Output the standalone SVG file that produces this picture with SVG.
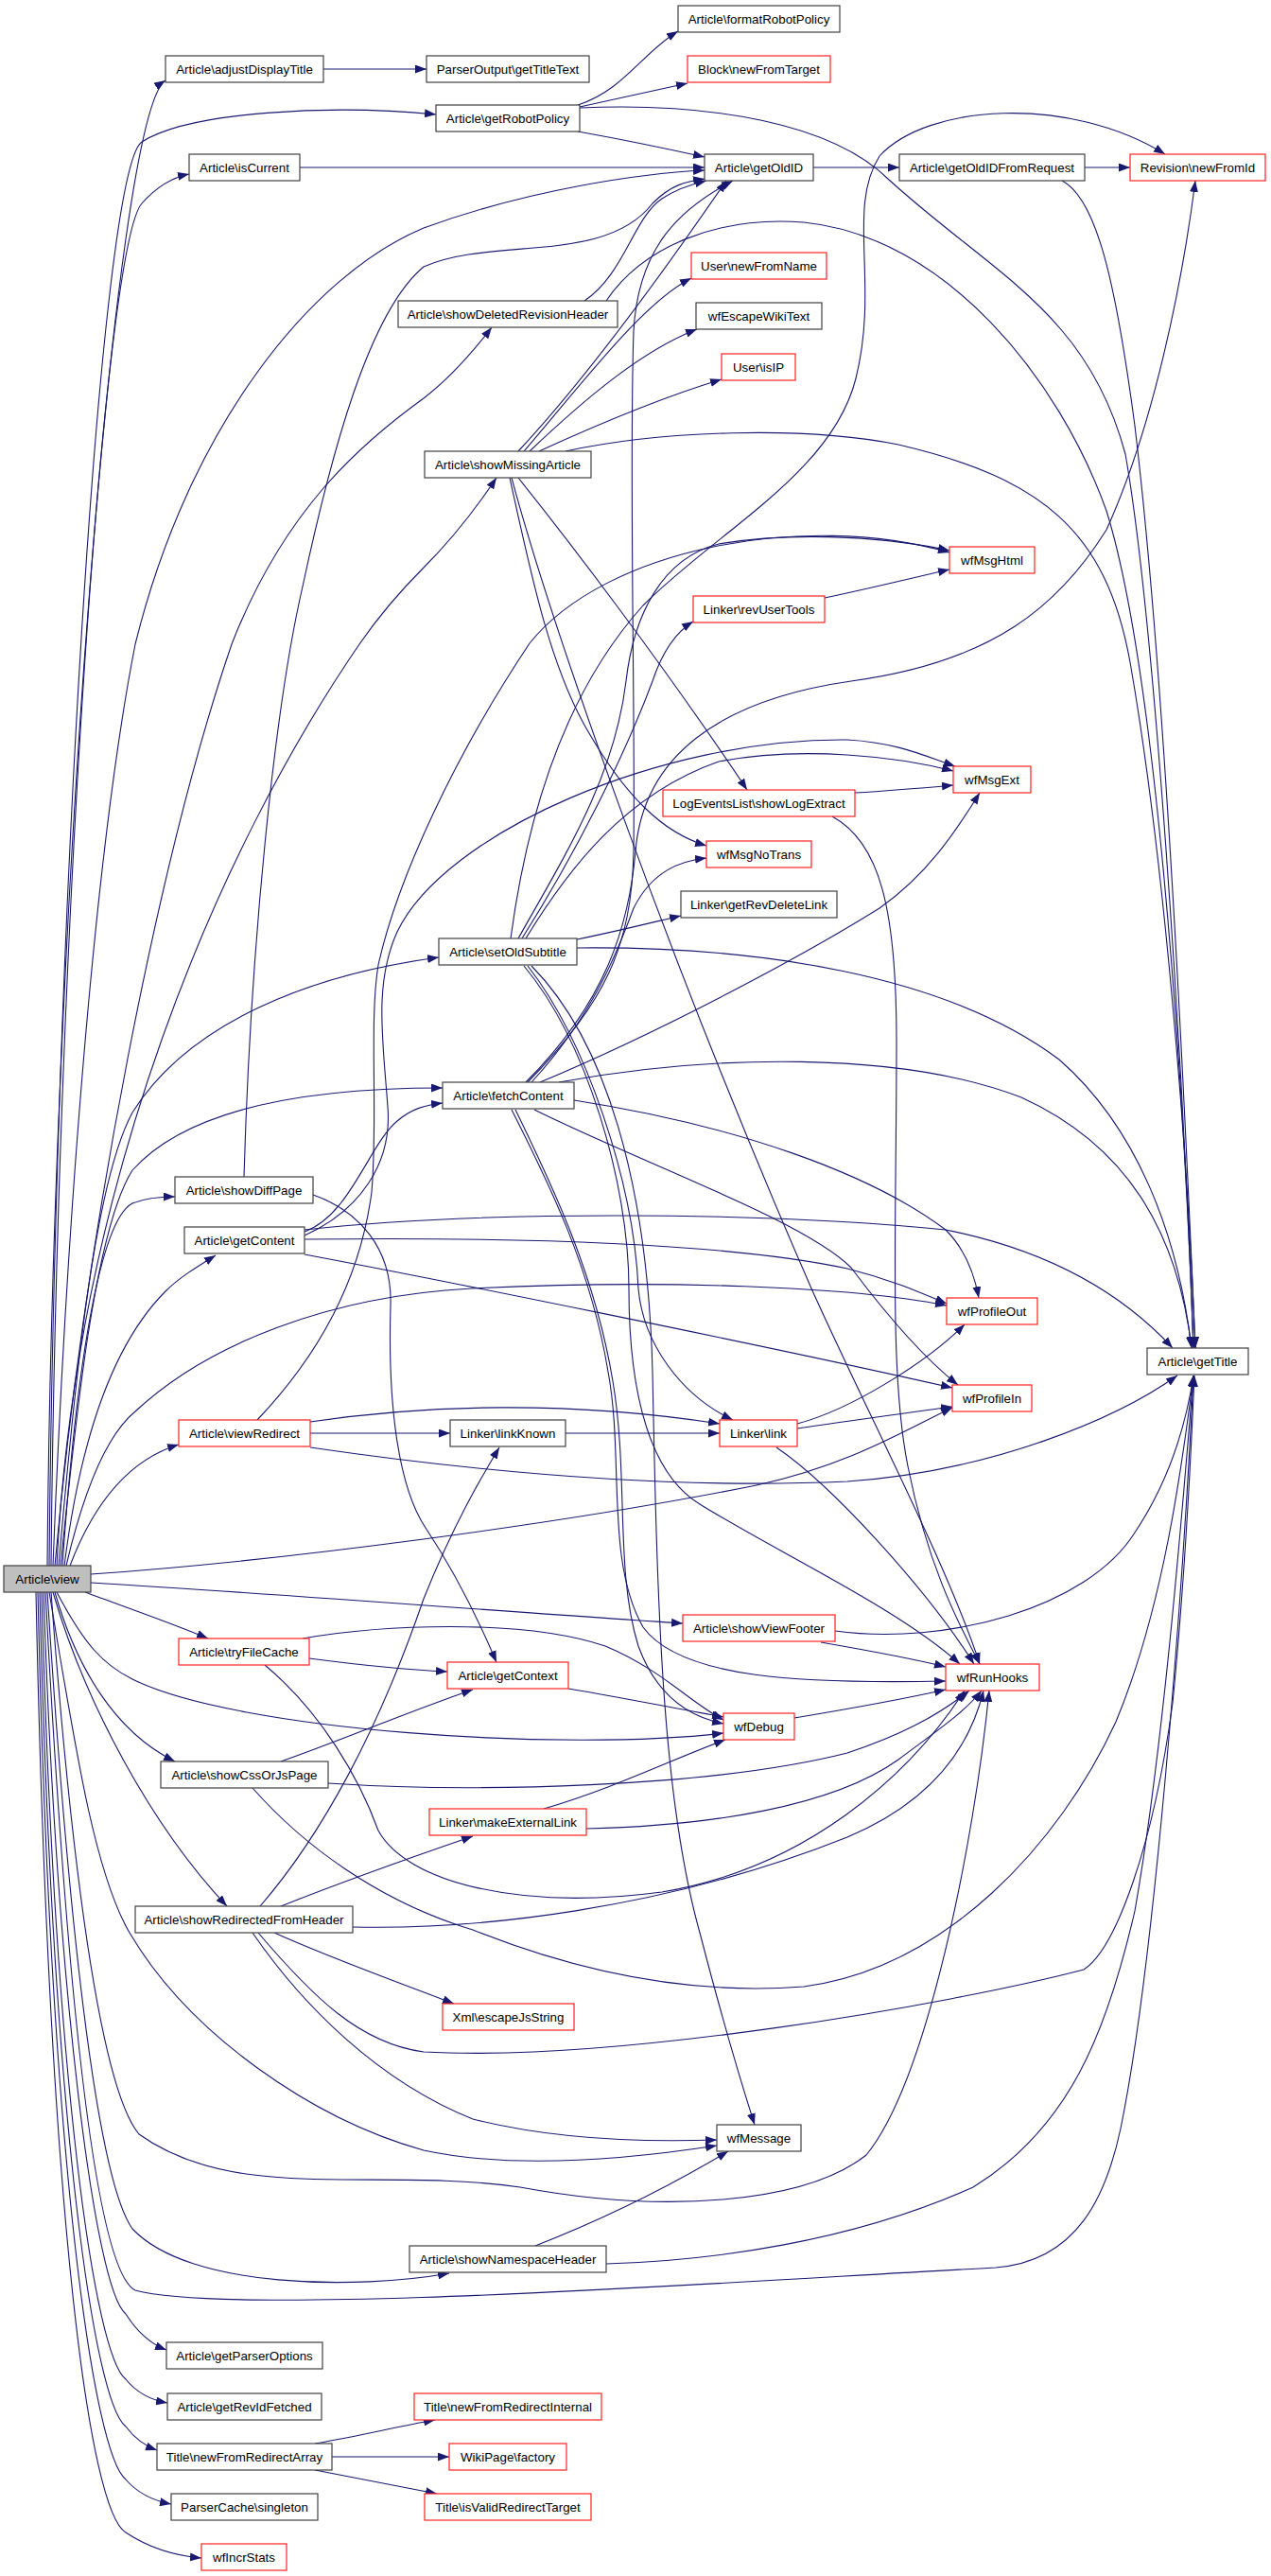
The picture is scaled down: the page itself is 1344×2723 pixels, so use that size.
<svg xmlns="http://www.w3.org/2000/svg" width="1344" height="2723" viewBox="0 0 1344 2723">
<defs>
<marker id="a" markerWidth="12" markerHeight="9" refX="12" refY="4.5" orient="auto" markerUnits="userSpaceOnUse"><path d="M0,0 L12,4.5 L0,9 z" fill="#191970"/></marker>
<style>
.n rect{fill:#fff;stroke:#404040;stroke-width:1.2}
.r rect{stroke:#ff2020}
.g rect{fill:#bfbfbf}
text{font-family:"Liberation Sans",Arial,Helvetica,sans-serif;font-size:13.33px;text-anchor:middle;fill:#000}
#edges path{fill:none;stroke:#191970;stroke-width:1.1;marker-end:url(#a)}
</style>
</defs>
<rect width="1344" height="2723" fill="#fff"/>
<g id="edges">
<path d="M 50,1655 C 55,1000 120,120 175,85"/>
<path d="M 52,1655 C 58,1000 105,180 150,150 C 200,118 350,110 461,121"/>
<path d="M 54,1655 C 60,1000 110,260 150,215 C 165,198 180,188 200,184"/>
<path d="M 56,1655 C 70,1300 100,900 143,681 C 200,450 330,290 448,241 C 560,200 680,183 745,180"/>
<path d="M 58,1655 C 90,1300 170,900 245,681 C 300,540 380,470 448,421 C 478,398 500,372 520,346"/>
<path d="M 60,1655 C 80,1250 230,900 380,681 C 400,652 420,628 448,600 C 480,568 505,535 525,505"/>
<path d="M 62,1655 C 80,1450 100,1250 140,1176 C 200,1080 330,1030 464,1012"/>
<path d="M 64,1655 C 80,1500 100,1300 140,1237 C 200,1170 330,1150 468,1150"/>
<path d="M 66,1655 C 80,1450 105,1290 140,1272 C 155,1266 170,1265 185,1265"/>
<path d="M 68,1655 C 85,1520 120,1420 175,1365 C 190,1350 210,1338 228,1327"/>
<path d="M 70,1655 C 90,1570 115,1515 143,1492 C 220,1420 350,1370 498,1362 C 700,1352 900,1360 1001,1380"/>
<path d="M 74,1655 C 95,1600 130,1545 189,1527"/>
<path d="M 96,1664 C 300,1650 600,1610 800,1570 C 900,1548 960,1510 1007,1488"/>
<path d="M 96,1673 C 300,1685 550,1705 722,1716"/>
<path d="M 90,1683 C 130,1698 180,1715 220,1732"/>
<path d="M 60,1683 C 90,1740 110,1760 140,1775 C 250,1830 600,1852 765,1832"/>
<path d="M 58,1683 C 80,1760 120,1830 185,1862"/>
<path d="M 56,1683 C 90,1800 160,1930 240,2015"/>
<path d="M 54,1683 C 70,1900 100,2200 147,2256 C 250,2330 400,2290 550,2312 C 700,2340 850,2330 916,2278 C 980,2200 1030,1950 1046,1787"/>
<path d="M 52,1683 C 80,1850 100,1980 137,2043 C 200,2150 330,2240 448,2273 C 550,2295 680,2280 758,2268"/>
<path d="M 50,1683 C 70,2000 100,2300 140,2356 C 200,2420 380,2420 475,2403"/>
<path d="M 48,1683 C 70,2100 100,2400 143,2421 C 250,2450 800,2410 1053,2397 C 1140,2390 1170,2320 1185,2250 C 1220,2080 1250,1700 1262,1454"/>
<path d="M 46,1683 C 60,2100 100,2420 133,2446 C 145,2465 160,2478 176,2484"/>
<path d="M 44,1683 C 58,2200 100,2490 133,2515 C 145,2530 160,2537 177,2540"/>
<path d="M 42,1683 C 56,2250 100,2540 133,2565 C 142,2577 152,2585 166,2590"/>
<path d="M 40,1683 C 54,2300 100,2595 133,2621 C 145,2635 160,2643 181,2647"/>
<path d="M 38,1683 C 52,2350 95,2655 133,2677 C 160,2695 190,2702 213,2704"/>
<path d="M 342,73 L 451,73"/>
<path d="M 611,111 C 660,95 680,55 717,33"/>
<path d="M 613,113 C 650,105 690,96 727,88"/>
<path d="M 611,139 C 650,146 700,156 745,166"/>
<path d="M 613,114 C 750,108 880,130 940,190 C 1050,290 1150,330 1190,480 C 1220,650 1250,1100 1262,1425"/>
<path d="M 317,177 L 745,177"/>
<path d="M 860,177 L 951,177"/>
<path d="M 1147,177 L 1195,177"/>
<path d="M 1123,191 C 1160,210 1180,300 1200,450 C 1230,700 1250,1100 1264,1425"/>
<path d="M 618,318 C 660,290 670,230 700,210 C 715,200 730,195 747,191"/>
<path d="M 641,318 C 680,260 760,228 850,235 C 1000,250 1120,400 1170,540 C 1220,700 1250,1100 1262,1425"/>
<path d="M 548,477 C 620,400 700,290 768,191"/>
<path d="M 554,477 C 620,400 680,320 731,294"/>
<path d="M 560,477 C 620,420 680,370 737,348"/>
<path d="M 570,477 C 640,445 700,420 763,401"/>
<path d="M 598,477 C 700,455 850,450 950,470 C 1100,505 1170,560 1195,700 C 1230,900 1255,1200 1264,1425"/>
<path d="M 539,505 C 560,600 580,700 620,770 C 660,840 700,880 747,894"/>
<path d="M 548,505 C 600,570 700,700 790,835"/>
<path d="M 541,505 C 580,650 700,1000 858,1362 C 920,1500 1000,1650 1036,1759"/>
<path d="M 872,632 C 920,622 960,612 1004,602"/>
<path d="M 904,838 C 940,836 975,833 1008,830"/>
<path d="M 880,863 C 930,890 948,960 948,1100 C 948,1300 940,1450 960,1550 C 980,1650 1010,1710 1036,1759"/>
<path d="M 540,992 C 555,880 590,740 680,640 C 760,560 880,500 905,400 C 930,300 895,220 930,165 C 980,110 1130,100 1232,163"/>
<path d="M 548,992 C 600,900 650,820 662,720 C 670,650 700,590 760,575 C 850,560 950,570 1004,582"/>
<path d="M 552,992 C 610,900 660,800 690,720 C 700,690 715,668 733,657"/>
<path d="M 556,992 C 600,920 660,840 760,805 C 850,788 950,800 1008,815"/>
<path d="M 610,993 C 650,985 690,975 720,968"/>
<path d="M 610,1002 C 800,1000 1000,1030 1120,1120 C 1200,1190 1245,1300 1260,1425"/>
<path d="M 558,1021 C 620,1100 670,1250 675,1362 C 680,1420 720,1475 775,1501"/>
<path d="M 554,1021 C 620,1100 665,1250 665,1362 C 665,1480 690,1560 740,1590 C 820,1640 950,1700 1015,1759"/>
<path d="M 562,1021 C 640,1100 685,1250 690,1450 C 695,1700 700,1900 740,2043 C 760,2120 780,2190 798,2246"/>
<path d="M 558,1144 C 640,1060 668,1000 670,900 C 672,750 665,500 670,350 C 675,260 720,220 775,191"/>
<path d="M 562,1144 C 630,1070 655,1000 670,960 C 690,920 720,910 747,907"/>
<path d="M 556,1144 C 640,1060 665,980 672,900 C 680,800 760,740 900,720 C 1050,700 1120,640 1170,560 C 1220,450 1250,300 1264,191"/>
<path d="M 571,1144 C 700,1090 850,1010 930,960 C 980,925 1010,880 1036,838"/>
<path d="M 591,1144 C 750,1115 950,1110 1080,1160 C 1190,1210 1245,1300 1260,1425"/>
<path d="M 607,1163 C 780,1190 920,1240 1000,1300 C 1020,1320 1030,1345 1035,1372"/>
<path d="M 565,1173 C 680,1230 850,1290 900,1340 C 930,1380 970,1430 1013,1464"/>
<path d="M 545,1173 C 585,1255 630,1350 648,1460 C 665,1560 650,1660 675,1740 C 695,1795 730,1815 765,1822"/>
<path d="M 541,1173 C 580,1250 625,1340 643,1450 C 660,1540 640,1650 680,1720 C 720,1775 850,1780 1000,1777"/>
<path d="M 322,1302 C 370,1285 390,1210 420,1185 C 435,1172 450,1168 468,1166"/>
<path d="M 322,1306 C 380,1280 415,1230 410,1170 C 405,1100 395,1040 420,985 C 470,880 700,780 896,782 C 950,785 980,800 1010,810"/>
<path d="M 322,1300 C 500,1280 800,1280 1000,1300 C 1100,1320 1180,1360 1240,1425"/>
<path d="M 322,1310 C 500,1308 750,1310 896,1341 C 940,1352 970,1365 1001,1378"/>
<path d="M 322,1326 C 450,1350 800,1420 1007,1467"/>
<path d="M 258,1244 C 265,1000 290,750 320,620 C 350,480 390,330 448,282 C 520,250 640,280 690,215 C 710,195 725,192 745,189"/>
<path d="M 331,1263 C 380,1280 415,1320 413,1380 C 410,1480 420,1570 450,1615 C 480,1660 505,1710 525,1757"/>
<path d="M 272,1501 C 330,1440 380,1360 393,1260 C 400,1180 390,1080 400,1020 C 420,930 480,800 560,680 C 640,580 850,540 1004,584"/>
<path d="M 328,1515 L 476,1515"/>
<path d="M 328,1503 C 450,1485 600,1480 761,1505"/>
<path d="M 328,1530 C 500,1555 700,1575 896,1566 C 1050,1555 1180,1500 1245,1454"/>
<path d="M 598,1515 L 761,1515"/>
<path d="M 843,1505 C 900,1490 980,1440 1020,1400"/>
<path d="M 843,1510 C 900,1502 960,1493 1007,1487"/>
<path d="M 821,1530 C 880,1570 980,1680 1030,1759"/>
<path d="M 868,1736 C 920,1745 960,1752 1000,1762"/>
<path d="M 883,1724 C 1000,1740 1150,1700 1200,1620 C 1240,1560 1255,1500 1262,1454"/>
<path d="M 327,1753 C 380,1760 430,1765 473,1767"/>
<path d="M 320,1732 C 400,1718 550,1710 640,1740 C 700,1765 730,1800 765,1818"/>
<path d="M 280,1760 C 340,1810 380,1880 400,1935 C 430,1990 550,2020 700,2000 C 850,1975 960,1880 1020,1787"/>
<path d="M 601,1785 C 660,1795 710,1805 765,1815"/>
<path d="M 840,1816 C 900,1806 960,1795 1000,1786"/>
<path d="M 297,1862 C 360,1840 430,1810 500,1786"/>
<path d="M 347,1885 C 500,1895 750,1890 896,1853 C 950,1835 990,1815 1025,1787"/>
<path d="M 267,1890 C 320,1950 400,2010 500,2040 C 600,2080 720,2110 850,2100 C 1000,2080 1120,1950 1180,1820 C 1230,1700 1250,1550 1262,1454"/>
<path d="M 575,1912 C 650,1890 710,1860 767,1839"/>
<path d="M 620,1933 C 750,1930 880,1910 950,1860 C 990,1830 1020,1810 1038,1787"/>
<path d="M 275,2015 C 340,1940 400,1830 448,1690 C 480,1610 510,1560 528,1530"/>
<path d="M 297,2015 C 360,1990 430,1965 500,1941"/>
<path d="M 290,2043 C 350,2070 420,2095 480,2118"/>
<path d="M 267,2043 C 320,2120 400,2200 500,2240 C 600,2265 700,2264 758,2262"/>
<path d="M 273,2043 C 330,2110 380,2160 448,2169 C 650,2180 1000,2120 1146,2082 C 1180,2060 1220,1950 1240,1800 C 1255,1650 1260,1520 1263,1454"/>
<path d="M 373,2037 C 500,2040 700,2020 896,1942 C 960,1915 1020,1870 1040,1787"/>
<path d="M 566,2374 C 640,2345 710,2310 770,2274"/>
<path d="M 641,2393 C 750,2390 900,2370 1029,2312 C 1130,2250 1170,2150 1200,2020 C 1230,1850 1250,1600 1262,1454"/>
<path d="M 333,2583 C 380,2575 420,2565 460,2558"/>
<path d="M 351,2597 L 475,2597"/>
<path d="M 333,2611 C 380,2620 420,2628 462,2636"/>
</g>
<g id="view" class="n g"><rect x="4" y="1655" width="92" height="28"/><text x="50" y="1673.7">Article\view</text></g>
<g id="adjustDisplayTitle" class="n"><rect x="175" y="59" width="167" height="28"/><text x="258.5" y="77.7">Article\adjustDisplayTitle</text></g>
<g id="getTitleText" class="n"><rect x="451" y="59" width="172" height="28"/><text x="537" y="77.7">ParserOutput\getTitleText</text></g>
<g id="formatRobotPolicy" class="n"><rect x="717" y="6" width="171" height="28"/><text x="802.5" y="24.7">Article\formatRobotPolicy</text></g>
<g id="getRobotPolicy" class="n"><rect x="461" y="111" width="152" height="28"/><text x="537" y="129.7">Article\getRobotPolicy</text></g>
<g id="newFromTarget" class="n r"><rect x="727" y="59" width="151" height="28"/><text x="802.5" y="77.7">Block\newFromTarget</text></g>
<g id="isCurrent" class="n"><rect x="200" y="163" width="117" height="28"/><text x="258.5" y="181.7">Article\isCurrent</text></g>
<g id="getOldID" class="n"><rect x="745" y="163" width="115" height="28"/><text x="802.5" y="181.7">Article\getOldID</text></g>
<g id="getOldIDFromRequest" class="n"><rect x="951" y="163" width="196" height="28"/><text x="1049" y="181.7">Article\getOldIDFromRequest</text></g>
<g id="newFromId" class="n r"><rect x="1195" y="163" width="143" height="28"/><text x="1266.5" y="181.7">Revision\newFromId</text></g>
<g id="showDeletedRevisionHeader" class="n"><rect x="421" y="318" width="232" height="28"/><text x="537" y="336.7">Article\showDeletedRevisionHeader</text></g>
<g id="newFromName" class="n r"><rect x="731" y="267" width="143" height="28"/><text x="802.5" y="285.7">User\newFromName</text></g>
<g id="wfEscapeWikiText" class="n"><rect x="736" y="320" width="133" height="28"/><text x="802.5" y="338.7">wfEscapeWikiText</text></g>
<g id="isIP" class="n r"><rect x="763" y="374" width="78" height="28"/><text x="802" y="392.7">User\isIP</text></g>
<g id="showMissingArticle" class="n"><rect x="449" y="477" width="176" height="28"/><text x="537" y="495.7">Article\showMissingArticle</text></g>
<g id="wfMsgHtml" class="n r"><rect x="1004" y="578" width="90" height="28"/><text x="1049" y="596.7">wfMsgHtml</text></g>
<g id="revUserTools" class="n r"><rect x="733" y="630" width="139" height="28"/><text x="802.5" y="648.7">Linker\revUserTools</text></g>
<g id="wfMsgExt" class="n r"><rect x="1008" y="810" width="82" height="28"/><text x="1049" y="828.7">wfMsgExt</text></g>
<g id="showLogExtract" class="n r"><rect x="701" y="835" width="203" height="28"/><text x="802.5" y="853.7">LogEventsList\showLogExtract</text></g>
<g id="wfMsgNoTrans" class="n r"><rect x="747" y="889" width="111" height="28"/><text x="802.5" y="907.7">wfMsgNoTrans</text></g>
<g id="getRevDeleteLink" class="n"><rect x="720" y="942" width="165" height="28"/><text x="802.5" y="960.7">Linker\getRevDeleteLink</text></g>
<g id="setOldSubtitle" class="n"><rect x="464" y="992" width="146" height="28"/><text x="537" y="1010.7">Article\setOldSubtitle</text></g>
<g id="fetchContent" class="n"><rect x="468" y="1144" width="139" height="28"/><text x="537.5" y="1162.7">Article\fetchContent</text></g>
<g id="showDiffPage" class="n"><rect x="185" y="1244" width="146" height="28"/><text x="258" y="1262.7">Article\showDiffPage</text></g>
<g id="getContent" class="n"><rect x="195" y="1297" width="127" height="28"/><text x="258.5" y="1315.7">Article\getContent</text></g>
<g id="wfProfileOut" class="n r"><rect x="1001" y="1372" width="96" height="28"/><text x="1049" y="1390.7">wfProfileOut</text></g>
<g id="getTitle" class="n"><rect x="1213" y="1425" width="107" height="28"/><text x="1266.5" y="1443.7">Article\getTitle</text></g>
<g id="wfProfileIn" class="n r"><rect x="1007" y="1464" width="84" height="28"/><text x="1049" y="1482.7">wfProfileIn</text></g>
<g id="viewRedirect" class="n r"><rect x="189" y="1501" width="139" height="28"/><text x="258.5" y="1519.7">Article\viewRedirect</text></g>
<g id="linkKnown" class="n"><rect x="476" y="1501" width="122" height="28"/><text x="537" y="1519.7">Linker\linkKnown</text></g>
<g id="link" class="n r"><rect x="761" y="1501" width="82" height="28"/><text x="802" y="1519.7">Linker\link</text></g>
<g id="showViewFooter" class="n r"><rect x="722" y="1707" width="161" height="28"/><text x="802.5" y="1725.7">Article\showViewFooter</text></g>
<g id="tryFileCache" class="n r"><rect x="189" y="1732" width="138" height="28"/><text x="258" y="1750.7">Article\tryFileCache</text></g>
<g id="getContext" class="n r"><rect x="473" y="1757" width="128" height="28"/><text x="537" y="1775.7">Article\getContext</text></g>
<g id="wfRunHooks" class="n r"><rect x="1000" y="1759" width="99" height="28"/><text x="1049.5" y="1777.7">wfRunHooks</text></g>
<g id="wfDebug" class="n r"><rect x="765" y="1811" width="75" height="28"/><text x="802.5" y="1829.7">wfDebug</text></g>
<g id="showCssOrJsPage" class="n"><rect x="170" y="1862" width="177" height="28"/><text x="258.5" y="1880.7">Article\showCssOrJsPage</text></g>
<g id="makeExternalLink" class="n r"><rect x="454" y="1912" width="166" height="28"/><text x="537" y="1930.7">Linker\makeExternalLink</text></g>
<g id="showRedirectedFromHeader" class="n"><rect x="143" y="2015" width="230" height="28"/><text x="258" y="2033.7">Article\showRedirectedFromHeader</text></g>
<g id="escapeJsString" class="n r"><rect x="468" y="2118" width="139" height="28"/><text x="537.5" y="2136.7">Xml\escapeJsString</text></g>
<g id="wfMessage" class="n"><rect x="758" y="2246" width="89" height="28"/><text x="802.5" y="2264.7">wfMessage</text></g>
<g id="showNamespaceHeader" class="n"><rect x="433" y="2374" width="208" height="28"/><text x="537" y="2392.7">Article\showNamespaceHeader</text></g>
<g id="getParserOptions" class="n"><rect x="176" y="2476" width="165" height="28"/><text x="258.5" y="2494.7">Article\getParserOptions</text></g>
<g id="getRevIdFetched" class="n"><rect x="177" y="2530" width="163" height="28"/><text x="258.5" y="2548.7">Article\getRevIdFetched</text></g>
<g id="newFromRedirectInternal" class="n r"><rect x="438" y="2530" width="198" height="28"/><text x="537" y="2548.7">Title\newFromRedirectInternal</text></g>
<g id="newFromRedirectArray" class="n"><rect x="166" y="2583" width="185" height="28"/><text x="258.5" y="2601.7">Title\newFromRedirectArray</text></g>
<g id="factory" class="n r"><rect x="475" y="2583" width="124" height="28"/><text x="537" y="2601.7">WikiPage\factory</text></g>
<g id="isValidRedirectTarget" class="n r"><rect x="449" y="2636" width="176" height="28"/><text x="537" y="2654.7">Title\isValidRedirectTarget</text></g>
<g id="singleton" class="n"><rect x="181" y="2636" width="155" height="28"/><text x="258.5" y="2654.7">ParserCache\singleton</text></g>
<g id="wfIncrStats" class="n r"><rect x="213" y="2689" width="90" height="28"/><text x="258" y="2707.7">wfIncrStats</text></g>
</svg>
